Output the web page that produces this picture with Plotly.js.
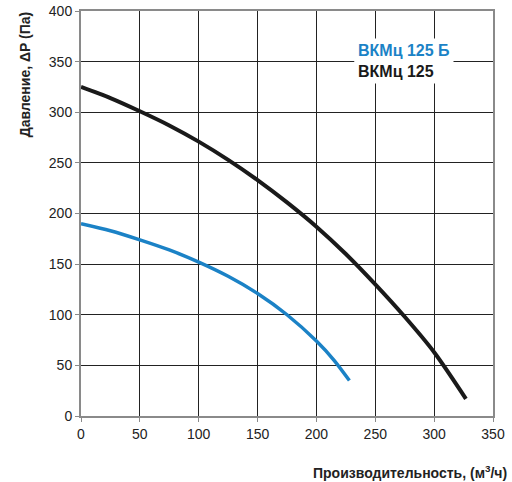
<!DOCTYPE html>
<html><head><meta charset="utf-8">
<script src="https://cdn.plot.ly/plotly-3.0.1.min.js"></script>
<style>body{margin:0;background:#fff}#chart{width:512px;height:482px}</style>
</head><body><div id="chart"></div>
<script>
var blackX = [0, 25, 50, 75, 100, 125, 150, 175, 200, 225, 250, 275, 300, 327];
var blackY = [325, 314, 301, 287, 271, 253, 233, 211, 187, 160, 130, 98, 63, 17];
var blueX = [0, 25, 50, 75, 100, 125, 150, 175, 200, 215, 228];
var blueY = [190, 183, 174, 164, 152, 138, 121, 100, 74, 55, 35];
var nameBlue = 'ВКМц 125 Б';
var nameBlack = 'ВКМц 125';
var xTitle = 'Производительность, (м<sup>3</sup>/ч)';
var yTitle = 'Давление, ΔP (Па)';

var traces = [
  {x: blackX, y: blackY, mode: 'lines', line: {color: '#1a1a1a', width: 4, shape: 'spline', smoothing: 0.8}, name: nameBlack, hoverinfo: 'none'},
  {x: blueX, y: blueY, mode: 'lines', line: {color: '#1b82c6', width: 3.5, shape: 'spline', smoothing: 0.8}, name: nameBlue, hoverinfo: 'none'}
];
var axisCommon = {
  showgrid: true, gridcolor: '#222', gridwidth: 1,
  showline: true, linecolor: '#8a8a8a', linewidth: 2, mirror: true,
  ticks: 'outside', ticklen: 4, tickcolor: '#8a8a8a',
  tickfont: {family: 'Liberation Sans, Arial, sans-serif', size: 14, color: '#222'},
  zeroline: false, fixedrange: true
};
var layout = {
  width: 512, height: 482,
  margin: {l: 81, r: 19, t: 11, b: 66},
  paper_bgcolor: '#fff', plot_bgcolor: '#fff',
  showlegend: false,
  xaxis: Object.assign({}, axisCommon, {range: [0, 350], dtick: 50}),
  yaxis: Object.assign({}, axisCommon, {range: [0, 400], dtick: 50}),
  annotations: [
    {xref: 'paper', yref: 'paper', x: 1.038, y: -0.11, xanchor: 'right', yanchor: 'top', showarrow: false,
     text: '<b>' + xTitle + '</b>', font: {family: 'Liberation Sans, Arial, sans-serif', size: 14, color: '#222'}},
    {xref: 'paper', yref: 'paper', x: -0.137, y: 1.003, xanchor: 'center', yanchor: 'top', textangle: -90, showarrow: false,
     text: '<b>' + yTitle + '</b>', font: {family: 'Liberation Sans, Arial, sans-serif', size: 14, color: '#222'}},
    {xref: 'x', yref: 'y', x: 232, y: 361, xanchor: 'left', yanchor: 'middle', showarrow: false, bgcolor: '#fff', borderpad: 3,
     text: '<b>' + nameBlue + '</b>', font: {family: 'Liberation Sans, Arial, sans-serif', size: 16, color: '#1b82c6'}},
    {xref: 'x', yref: 'y', x: 232, y: 340, xanchor: 'left', yanchor: 'middle', showarrow: false, bgcolor: '#fff', borderpad: 3,
     text: '<b>' + nameBlack + '</b>', font: {family: 'Liberation Sans, Arial, sans-serif', size: 16, color: '#1a1a1a'}}
  ]
};
Plotly.newPlot('chart', traces, layout, {displayModeBar: false, staticPlot: true});
</script></body></html>
